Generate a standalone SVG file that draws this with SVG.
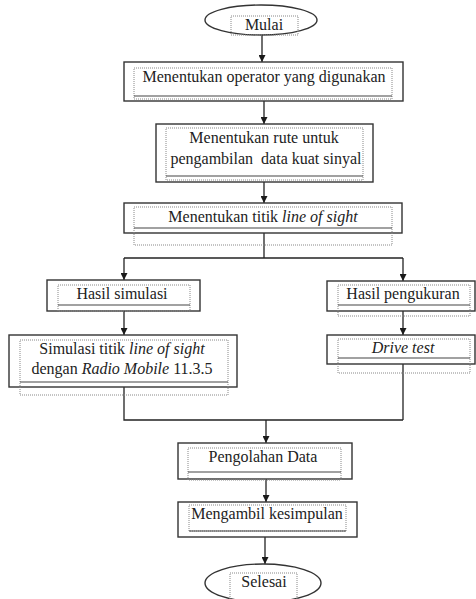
<svg xmlns="http://www.w3.org/2000/svg" width="476" height="599" viewBox="0 0 476 599">
<defs>
<marker id="ah" viewBox="0 0 8 8" refX="8" refY="4" markerWidth="7" markerHeight="7" markerUnits="userSpaceOnUse" orient="auto">
<path d="M0,0 L8,4 L0,8 z" fill="#1a1a1a"/>
</marker>
</defs>
<style>
.outer{fill:#fff;stroke:#333;stroke-width:1.4}
.inner{fill:none;stroke:#888;stroke-width:1;stroke-dasharray:1 1}
.base{stroke:#444;stroke-width:1.2}
.conn{fill:none;stroke:#222;stroke-width:1.3}
.t{font-size:16px;fill:#222;text-anchor:middle}
.it{font-style:italic}
</style>
<rect width="476" height="599" fill="#fff"/>
<g id="connectors">
<line class="conn" x1="262" y1="35" x2="262" y2="62" marker-end="url(#ah)"/>
<line class="conn" x1="264" y1="101" x2="264" y2="124" marker-end="url(#ah)"/>
<line class="conn" x1="264" y1="182" x2="264" y2="203" marker-end="url(#ah)"/>
<line class="conn" x1="264" y1="233" x2="264" y2="258"/>
<line class="conn" x1="124" y1="258" x2="403" y2="258"/>
<line class="conn" x1="124" y1="258" x2="124" y2="280" marker-end="url(#ah)"/>
<line class="conn" x1="403" y1="258" x2="403" y2="281" marker-end="url(#ah)"/>
<line class="conn" x1="124" y1="311" x2="124" y2="335" marker-end="url(#ah)"/>
<line class="conn" x1="403" y1="311" x2="403" y2="335" marker-end="url(#ah)"/>
<polyline class="conn" points="124,387 124,420 403,420"/>
<line class="conn" x1="403" y1="364" x2="403" y2="420"/>
<line class="conn" x1="266" y1="420" x2="266" y2="443" marker-end="url(#ah)"/>
<line class="conn" x1="266" y1="479" x2="266" y2="502" marker-end="url(#ah)"/>
<line class="conn" x1="265" y1="537" x2="265" y2="564" marker-end="url(#ah)"/>
</g>
<g font-family="Liberation Serif, Times New Roman, serif">
<g id="mulai">
<ellipse class="outer" cx="261" cy="20" rx="56" ry="15"/>
<rect class="inner" x="231" y="16" width="67" height="19"/>
<text class="t" x="264" y="30">Mulai</text>
</g>
<g id="operator">
<rect class="outer" x="124" y="62" width="279" height="39"/>
<rect class="inner" x="134" y="68" width="258" height="31"/>
<line class="base" x1="134" y1="96" x2="392" y2="96"/>
<text class="t" x="264" y="82">Menentukan operator yang digunakan</text>
</g>
<g id="rute">
<rect class="outer" x="156" y="124" width="217" height="58"/>
<rect class="inner" x="166" y="128" width="197" height="52"/>
<line class="base" x1="166" y1="176" x2="363" y2="176"/>
<text class="t" x="264" y="143">Menentukan rute untuk</text>
<text class="t" x="266" y="164">pengambilan&#160; data kuat sinyal</text>
</g>
<g id="los">
<rect class="outer" x="124" y="203" width="278" height="30"/>
<rect class="inner" x="134" y="207" width="258" height="38"/>
<line class="base" x1="134" y1="228" x2="392" y2="228"/>
<text class="t" x="263" y="222">Menentukan titik <tspan class="it">line of sight</tspan></text>
</g>
<g id="hasil-simulasi">
<rect class="outer" x="47" y="280" width="153" height="31"/>
<rect class="inner" x="58" y="285" width="132" height="26"/>
<line class="base" x1="58" y1="305" x2="190" y2="305"/>
<text class="t" x="122" y="299">Hasil simulasi</text>
</g>
<g id="hasil-pengukuran">
<rect class="outer" x="327" y="281" width="148" height="30"/>
<rect class="inner" x="338" y="285" width="132" height="31"/>
<line class="base" x1="338" y1="305" x2="470" y2="305"/>
<text class="t" x="403" y="299">Hasil pengukuran</text>
</g>
<g id="simulasi">
<rect class="outer" x="9" y="335" width="228" height="52"/>
<rect class="inner" x="20" y="340" width="208" height="55"/>
<line class="base" x1="20" y1="382" x2="228" y2="382"/>
<text class="t" x="122" y="354">Simulasi titik <tspan class="it">line of sight</tspan></text>
<text class="t" x="122" y="374">dengan <tspan class="it">Radio Mobile</tspan> 11.3.5</text>
</g>
<g id="drive-test">
<rect class="outer" x="327" y="335" width="148" height="29"/>
<rect class="inner" x="338" y="339" width="132" height="34"/>
<line class="base" x1="338" y1="358" x2="470" y2="358"/>
<text class="t it" x="403" y="353">Drive test</text>
</g>
<g id="pengolahan">
<rect class="outer" x="178" y="443" width="174" height="36"/>
<rect class="inner" x="188" y="448" width="153" height="32"/>
<line class="base" x1="188" y1="472" x2="341" y2="472"/>
<text class="t" x="263" y="462">Pengolahan Data</text>
</g>
<g id="kesimpulan">
<rect class="outer" x="178" y="502" width="179" height="35"/>
<rect class="inner" x="189" y="505" width="157" height="26"/>
<line class="base" x1="189" y1="531" x2="346" y2="531"/>
<text class="t" x="267" y="519">Mengambil kesimpulan</text>
</g>
<g id="selesai">
<ellipse class="outer" cx="263" cy="583" rx="58" ry="19"/>
<rect class="inner" x="230" y="573" width="67" height="30"/>
<text class="t" x="264" y="587">Selesai</text>
</g>
</g>
</svg>
